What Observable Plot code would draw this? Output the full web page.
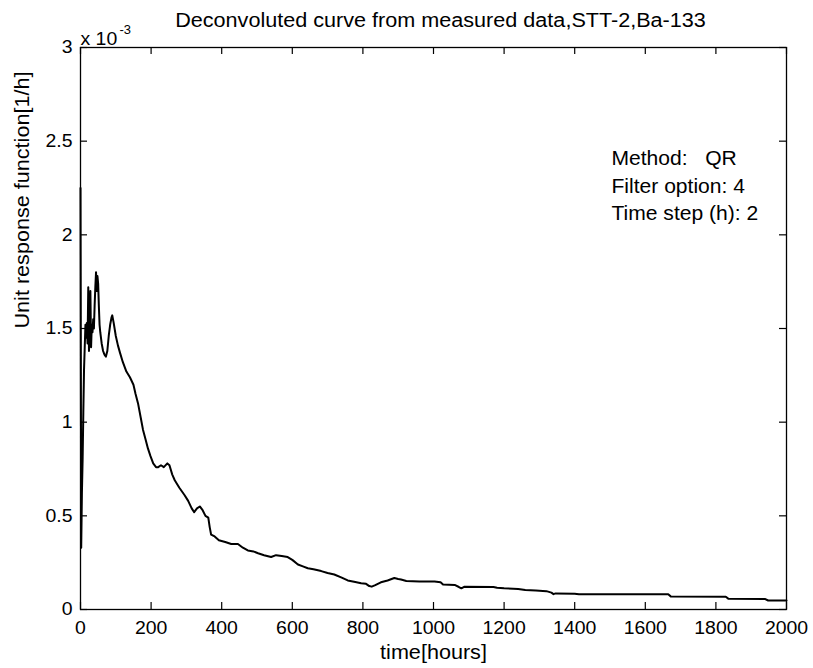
<!DOCTYPE html>
<html>
<head>
<meta charset="utf-8">
<script src="https://cdn.jsdelivr.net/npm/d3@7"></script>
<script src="https://cdn.jsdelivr.net/npm/@observablehq/plot@0.6"></script>
<style>
  html, body { margin: 0; padding: 0; background: #fff; }
  svg text { fill: #000; }
</style>
</head>
<body>
<div id="chart"></div>
<script>
// Deconvoluted unit response function, STT-2, Ba-133 (values in 10^-3 1/h)
const timeHours = [
  0, 2, 4, 6, 8, 10, 12, 14, 16, 18, 20, 22, 24, 26, 28, 30, 32, 34, 36, 38,
  40, 42, 44, 46, 48, 50, 52, 54, 56, 60, 64, 68, 72, 76, 80, 84, 88, 90, 94, 100,
  106, 112, 120, 130, 140, 150, 156, 163, 170, 177, 184, 191, 198, 206, 214, 220, 228, 236, 246, 252,
  260, 267, 280, 295, 305, 315, 322, 330, 338, 346, 354, 362, 366, 370, 380, 392, 410, 427, 446, 460,
  474, 490, 503, 520, 540, 554, 570, 587, 600, 616, 630, 644, 660, 682, 700, 719, 740, 757, 775, 795,
  809, 818, 825, 835, 851, 870, 889, 900, 908, 923, 960, 1003, 1020, 1027, 1060, 1072, 1079, 1088, 1170, 1180,
  1200, 1240, 1260, 1290, 1320, 1334, 1340, 1346, 1400, 1412, 1665, 1672, 1828, 1835, 1940, 1948, 2000
];
const responseE3 = [
  2.25, 0.33, 0.62, 0.80, 1.05, 1.28, 1.40, 1.52, 1.45, 1.53, 1.42, 1.72, 1.38, 1.50, 1.70, 1.40, 1.52, 1.48, 1.55, 1.50,
  1.62, 1.72, 1.80, 1.70, 1.78, 1.74, 1.62, 1.52, 1.48, 1.42, 1.38, 1.36, 1.35, 1.38, 1.46, 1.52, 1.56, 1.57, 1.53, 1.46,
  1.41, 1.37, 1.32, 1.27, 1.24, 1.20, 1.15, 1.10, 1.03, 0.96, 0.91, 0.86, 0.82, 0.78, 0.76, 0.76, 0.77, 0.76, 0.78, 0.77,
  0.72, 0.69, 0.65, 0.61, 0.58, 0.54, 0.52, 0.54, 0.55, 0.53, 0.50, 0.49, 0.44, 0.40, 0.39, 0.37, 0.36, 0.35, 0.35, 0.33,
  0.315, 0.31, 0.30, 0.29, 0.28, 0.29, 0.285, 0.28, 0.265, 0.24, 0.23, 0.22, 0.215, 0.205, 0.195, 0.187, 0.17, 0.155, 0.148, 0.14,
  0.137, 0.125, 0.122, 0.13, 0.145, 0.155, 0.168, 0.163, 0.16, 0.152, 0.15, 0.15, 0.145, 0.133, 0.131, 0.12, 0.113, 0.122, 0.12, 0.116,
  0.113, 0.11, 0.104, 0.102, 0.098, 0.09, 0.082, 0.086, 0.084, 0.081, 0.081, 0.07, 0.068, 0.058, 0.056, 0.048, 0.048
];

const xTicks = [0, 200, 400, 600, 800, 1000, 1200, 1400, 1600, 1800, 2000];
const yTicks = [0, 0.5, 1, 1.5, 2, 2.5, 3];

const titleText = "Deconvoluted curve from measured data,STT-2,Ba-133";
const xLabel = "time[hours]";
const yLabel = "Unit response function[1/h]";
const infoLines = ["Method:\u00a0\u00a0\u00a0QR", "Filter option: 4", "Time step (h): 2"];

const data = timeHours.map((t, i) => ({t, v: responseE3[i]}));

const W = 813, H = 668;
const mL = 80, mR = 27, mT = 47, mB = 59;
const innerW = W - mL - mR, innerH = H - mT - mB;
const tick = 7;

const chart = Plot.plot({
  width: W,
  height: H,
  marginLeft: mL,
  marginRight: mR,
  marginTop: mT,
  marginBottom: mB,
  style: {fontFamily: "'Liberation Sans', Arial, sans-serif", fontSize: "18px", background: "#fff", color: "#000"},
  x: {domain: [0, 2000]},
  y: {domain: [0, 3]},
  marks: [
    // inward ticks on all four sides of the box
    Plot.tickX(xTicks, {x: d => d, insetTop: innerH - tick, stroke: "#000", strokeWidth: 1.2}),
    Plot.tickX(xTicks, {x: d => d, insetBottom: innerH - tick, stroke: "#000", strokeWidth: 1.2}),
    Plot.tickY(yTicks, {y: d => d, insetRight: innerW - tick, stroke: "#000", strokeWidth: 1.2}),
    Plot.tickY(yTicks, {y: d => d, insetLeft: innerW - tick, stroke: "#000", strokeWidth: 1.2}),
    Plot.axisX(xTicks, {tickSize: 0, tickPadding: 12, label: null, fontSize: 18, tickFormat: d => String(d)}),
    Plot.axisY(yTicks, {tickSize: 0, tickPadding: 8, label: null, fontSize: 18, tickFormat: d => String(d)}),
    Plot.line(data, {x: "t", y: "v", stroke: "#000", strokeWidth: 2}),
    Plot.frame({stroke: "#000", strokeWidth: 1.3}),
    // title, axis labels and scale exponent
    Plot.text([titleText], {text: d => d, frameAnchor: "top", lineAnchor: "middle", dx: 7, dy: -27, fontSize: 20}),
    Plot.text([xLabel], {text: d => d, frameAnchor: "bottom", lineAnchor: "middle", dy: 43, fontSize: 20}),
    Plot.text([yLabel], {text: d => d, frameAnchor: "left", lineAnchor: "middle", rotate: -90, dx: -58, fontSize: 20}),
    Plot.text(["x 10"], {text: d => d, frameAnchor: "top-left", textAnchor: "start", lineAnchor: "bottom", dx: 0, dy: -3, fontSize: 18}),
    Plot.text(["-3"], {text: d => d, frameAnchor: "top-left", textAnchor: "start", lineAnchor: "bottom", dx: 39, dy: -14, fontSize: 12}),
    // method annotation
    Plot.text([infoLines[0]], {text: d => d, frameAnchor: "top-left", textAnchor: "start", lineAnchor: "middle", dx: 531, dy: 111, fontSize: 19.5}),
    Plot.text([infoLines[1]], {text: d => d, frameAnchor: "top-left", textAnchor: "start", lineAnchor: "middle", dx: 531, dy: 139, fontSize: 19.5}),
    Plot.text([infoLines[2]], {text: d => d, frameAnchor: "top-left", textAnchor: "start", lineAnchor: "middle", dx: 531, dy: 166, fontSize: 19.5})
  ]
});

document.getElementById("chart").append(chart);

// widen the Helvetica-style glyphs slightly
chart.querySelectorAll("text").forEach(el => {
  if (el.querySelector("tspan")) return;
  const w = el.getComputedTextLength();
  if (w > 0) {
    el.setAttribute("textLength", (w * 1.08).toFixed(2));
    el.setAttribute("lengthAdjust", "spacingAndGlyphs");
  }
});
</script>
</body>
</html>
